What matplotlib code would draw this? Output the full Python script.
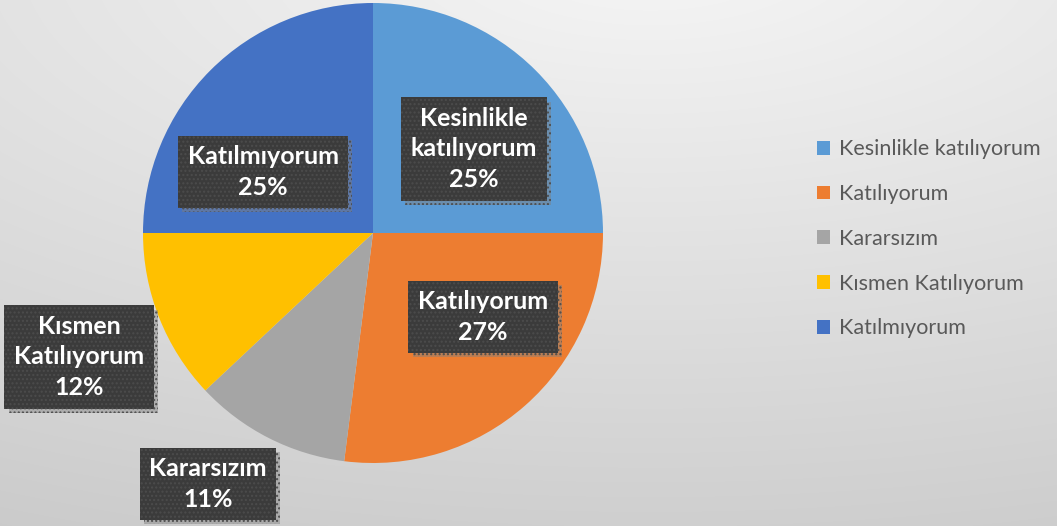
import numpy as np
import matplotlib.pyplot as plt
import matplotlib.patheffects as pe
from matplotlib.patches import Patch

# Data
labels = ["Kesinlikle katılıyorum", "Katılıyorum", "Kararsızım", "Kısmen Katılıyorum", "Katılmıyorum"]
boxLabels = ["Kesinlikle\nkatılıyorum", "Katılıyorum", "Kararsızım", "Kısmen\nKatılıyorum", "Katılmıyorum"]
percents = [25, 27, 11, 12, 25]
colors = ["#5B9BD5", "#ED7D31", "#A5A5A5", "#FFC000", "#4472C4"]

# Label box centres in pixels (x, y from top)
boxPos = [(474, 149), (483, 317), (208, 484), (79, 357), (263, 172)]

W, H = 1057, 526
plt.rcParams['font.family'] = ['Lato', 'DejaVu Sans']
fig = plt.figure(figsize=(W / 100, H / 100), dpi=100)
ax = fig.add_axes([0, 0, 1, 1])

# Soft background gradient, light at top centre
yy, xx = np.mgrid[0:H, 0:W]
dist = np.sqrt(((xx - 650) / 890) ** 2 + ((yy + 50) / 376) ** 2)
shade = np.clip(0.965 - 0.1 * dist, 0.78, 0.965)
ax.imshow(np.dstack([shade] * 3), extent=(0, W, 0, H), origin='upper', zorder=0)

ax.pie(percents, colors=colors, startangle=90, counterclock=False,
       center=(373, H - 233), radius=230, wedgeprops=dict(linewidth=0),
       frame=True)
ax.set_xlim(0, W)
ax.set_ylim(0, H)
ax.axis('off')

# Dark label boxes with a soft drop shadow
for i in range(len(percents)):
    x, y = boxPos[i]
    t = ax.text(x, H - y, f"{boxLabels[i]}\n{percents[i]}%", ha='center', va='center',
                fontsize=18, fontweight='bold', color='white', linespacing=1.4,
                bbox=dict(boxstyle='square,pad=0.38', facecolor='#3b3b3b', edgecolor='#4c4c4c',
                          linewidth=0, hatch='....'),
                zorder=4)
    t.get_bbox_patch().set_path_effects([
        pe.SimplePatchShadow(offset=(3, -3), shadow_rgbFace='#808080', alpha=0.45),
        pe.Normal()])

# Legend
handles = [Patch(facecolor=c, edgecolor='none') for c in colors]
leg = fig.legend(handles, labels, loc='upper left', bbox_to_anchor=(798 / W, 1 - 120 / H),
                 frameon=False, fontsize=15.5, handlelength=0.6, handleheight=0.6,
                 handletextpad=0.4, labelspacing=1.15)
for t in leg.get_texts():
    t.set_color('#595959')

fig.savefig("out.png", dpi=100)
